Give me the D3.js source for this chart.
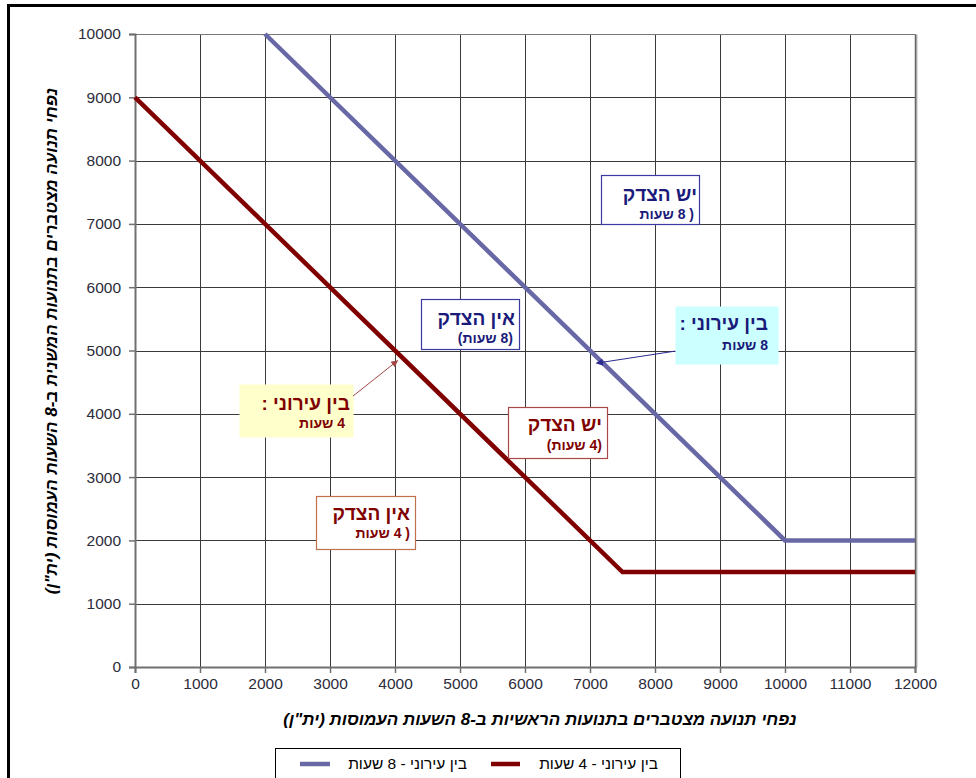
<!DOCTYPE html>
<html><head><meta charset="utf-8">
<script src="https://cdnjs.cloudflare.com/ajax/libs/d3/7.8.5/d3.min.js"></script>
<style>
html,body{margin:0;padding:0;background:#fff;}
svg{display:block;font-family:Arial,"Liberation Sans","DejaVu Sans",sans-serif;}
</style></head>
<body>
<svg id="chart" width="976" height="778"></svg>
<script>
// ---- data ----
const xTicks = [0,1000,2000,3000,4000,5000,6000,7000,8000,9000,10000,11000,12000];
const yTicks = [0,1000,2000,3000,4000,5000,6000,7000,8000,9000,10000];
const series8X = [2000, 10000, 12000];
const series8Y = [10000, 2000, 2000];
const series4X = [0, 7500, 12000];
const series4Y = [9000, 1500, 1500];
const seriesNames = ["בין עירוני - 8 שעות", "בין עירוני - 4 שעות"];
const xTitle = "נפחי תנועה מצטברים בתנועות הראשיות ב-8 השעות העמוסות (ית\"ן)";
const yTitle = "נפחי תנועה מצטברים בתנועות המשנית ב-8 השעות העמוסות (ית\"ן)";
const boxTitles = ["יש הצדק", "בין עירוני :", "אין הצדק", "בין עירוני :", "יש הצדק", "אין הצדק"];
const boxSubs = ["( 8 שעות", "8 שעות", "(8 שעות)", "4 שעות", "(4 שעות)", "( 4 שעות"];

const RTL = s => "\u202B" + s + "\u202C";
const svg = d3.select("#chart");

// outer frame
svg.append("rect").attr("x",8.5).attr("y",5.5).attr("width",1200).attr("height",1000)
  .attr("fill","none").attr("stroke","#000").attr("stroke-width",3);

const x = d3.scaleLinear().domain([0,12000]).range([135,915]);
const y = d3.scaleLinear().domain([0,10000]).range([667,34]);
const px = v => Math.round(x(v)) + 0.5;
const py = v => Math.round(y(v)) + 0.5;

// grid
const g = svg.append("g");
g.selectAll("line.vg").data(xTicks.slice(1,-1)).join("line")
  .attr("x1",px).attr("x2",px).attr("y1",py(0)).attr("y2",py(10000))
  .attr("stroke","#3a3a3a").attr("stroke-width",1);
g.selectAll("line.hg").data(yTicks.slice(1,-1)).join("line")
  .attr("y1",py).attr("y2",py).attr("x1",px(0)).attr("x2",px(12000))
  .attr("stroke","#3a3a3a").attr("stroke-width",1);
// plot border
g.append("line").attr("x1",px(0)).attr("x2",px(12000)).attr("y1",py(10000)).attr("y2",py(10000)).attr("stroke","#777");
g.append("line").attr("x1",px(12000)+1).attr("x2",px(12000)+1).attr("y1",py(10000)).attr("y2",py(0)).attr("stroke","#bbb").attr("stroke-width",2);
g.append("line").attr("x1",px(12000)).attr("x2",px(12000)).attr("y1",py(10000)).attr("y2",py(0)).attr("stroke","#666").attr("stroke-width",1.5);

// axes
const xAxis = d3.axisBottom(x).tickValues(xTicks).tickSize(6).tickPadding(5).tickFormat(d3.format("d"));
const yAxis = d3.axisLeft(y).tickValues(yTicks).tickSize(6).tickPadding(8).tickFormat(d3.format("d"));
const gx = svg.append("g").attr("transform","translate(0,667)").call(xAxis);
const gy = svg.append("g").attr("transform","translate(135,0)").call(yAxis);
[gx,gy].forEach(a=>{
  a.select(".domain").attr("stroke","#707070").attr("stroke-width",2);
  a.selectAll(".tick line").attr("stroke","#707070").attr("stroke-width",1.5);
  a.selectAll(".tick text").attr("fill","#2c2c3a").attr("font-size",15.5)
   .attr("font-family","Arial,'Liberation Sans',sans-serif");
});

// series lines
const line = d3.line().x(d=>x(d[0])).y(d=>y(d[1]));
svg.append("path").datum(series8X.map((v,i)=>[v,series8Y[i]])).attr("d",line)
  .attr("fill","none").attr("stroke","#6868a6").attr("stroke-width",4.5);
svg.append("path").datum(series4X.map((v,i)=>[v,series4Y[i]])).attr("d",line)
  .attr("fill","none").attr("stroke","#800000").attr("stroke-width",4.5);

// arrow markers
const defs = svg.append("defs");
function marker(id,color){
  defs.append("marker").attr("id",id).attr("viewBox","0 0 10 10").attr("refX",9).attr("refY",5)
    .attr("markerWidth",9).attr("markerHeight",7).attr("markerUnits","userSpaceOnUse").attr("orient","auto")
    .append("path").attr("d","M0,0L10,5L0,10z").attr("fill",color);
}
marker("arrB","#2a2a90"); marker("arrR","#a04848");

// annotation boxes (positions in data space)
const boxes = [
  {x0:7169,x1:8677,y0:7773,y1:6998, fill:"#fff", stroke:"#3a3aa0", color:"#1a1a7a"},
  {x0:8308,x1:9892,y0:5703,y1:4787, fill:"#ccffff", stroke:"none", color:"#1a1a7a"},
  {x0:4400,x1:5908,y0:5814,y1:5024, fill:"#fff", stroke:"#3a3aa0", color:"#1a1a7a"},
  {x0:1600,x1:3354,y0:4471,y1:3633, fill:"#ffffcc", stroke:"none", color:"#800000"},
  {x0:5738,x1:7262,y0:4107,y1:3302, fill:"#fff", stroke:"#a84848", color:"#800000"},
  {x0:2785,x1:4308,y0:2701,y1:1864, fill:"#fff", stroke:"#c0704a", color:"#800000"}
];
boxes.forEach((b,i)=>{
  const X0 = Math.round(x(b.x0))+0.5, X1 = Math.round(x(b.x1))+0.5;
  const Y0 = Math.round(y(b.y0))+0.5, Y1 = Math.round(y(b.y1))+0.5;
  svg.append("rect").attr("x",X0).attr("y",Y0).attr("width",X1-X0).attr("height",Y1-Y0)
    .attr("fill",b.fill).attr("stroke",b.stroke).attr("stroke-width",1.2);
});
// text in boxes: [right x, title baseline, sub right x, sub baseline]
const boxText = [[697,201,694,219],[768,330,768,350],[515,325,513,343],[350,410,345,428],[602,431,602,450],[410,520,410,538]];
boxes.forEach((b,i)=>{
  const t = boxText[i];
  svg.append("text").attr("x",t[0]).attr("y",t[1]).attr("text-anchor","end")
    .attr("font-size",19).attr("font-weight","bold").attr("fill",b.color).text(RTL(boxTitles[i]));
  svg.append("text").attr("x",t[2]).attr("y",t[3]).attr("text-anchor","end")
    .attr("font-size",14).attr("font-weight","bold").attr("fill",b.color).text(RTL(boxSubs[i]));
});

// arrows
svg.append("line").attr("x1",x(8308)).attr("y1",y(4990)).attr("x2",x(7100)).attr("y2",y(4800))
  .attr("stroke","#2a2a90").attr("stroke-width",1).attr("marker-end","url(#arrB)");
svg.append("line").attr("x1",x(3354)).attr("y1",y(4280)).attr("x2",x(4040)).attr("y2",y(4840))
  .attr("stroke","#a04848").attr("stroke-width",1).attr("marker-end","url(#arrR)");

// axis titles
svg.append("text").attr("x",540).attr("y",725).attr("text-anchor","middle")
  .attr("font-size",17).attr("font-weight","bold").attr("font-style","italic").attr("fill","#000")
  .text(RTL(xTitle));
svg.append("text").attr("transform","translate(57,341) rotate(-90)").attr("text-anchor","middle")
  .attr("font-size",17).attr("font-weight","bold").attr("font-style","italic").attr("fill","#000")
  .text(RTL(yTitle));

// legend
svg.append("rect").attr("x",275.5).attr("y",748.5).attr("width",405).attr("height",40)
  .attr("fill","#fff").attr("stroke","#000").attr("stroke-width",1);
const legColors = ["#6868a6","#800000"];
const legTextRight = [467, 658];
const legLine = [[300,330],[491,520]];
seriesNames.forEach((n,i)=>{
  svg.append("line").attr("x1",legLine[i][0]).attr("x2",legLine[i][1]).attr("y1",764).attr("y2",764)
    .attr("stroke",legColors[i]).attr("stroke-width",4.5);
  svg.append("text").attr("x",legTextRight[i]).attr("y",769).attr("text-anchor","end")
    .attr("font-size",15.5).attr("fill","#000").text(RTL(n));
});
</script>
</body></html>
